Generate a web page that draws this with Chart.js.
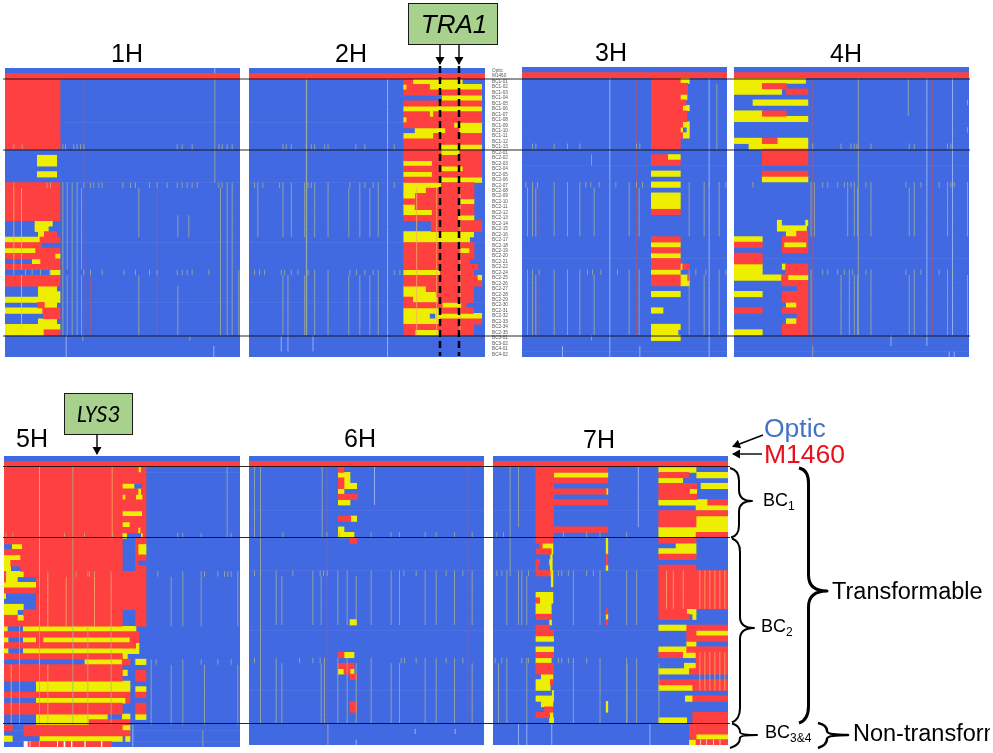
<!DOCTYPE html>
<html>
<head>
<meta charset="utf-8">
<script src="https://cdn.jsdelivr.net/npm/chart.js@4"></script>
<style>
html, body { margin: 0; padding: 0; background: #fff; overflow: hidden; }
body { width: 993px; height: 753px; position: relative; font-family: "Liberation Sans", Arial, sans-serif; }
canvas { position: absolute; filter: blur(0.35px); }
svg { position: absolute; left: 0; top: 0; }
</style>
</head>
<body>
<canvas id="h1"></canvas>
<canvas id="h2"></canvas>
<canvas id="h3"></canvas>
<canvas id="h4"></canvas>
<canvas id="h5"></canvas>
<canvas id="h6"></canvas>
<canvas id="h7"></canvas>

<svg width="990" height="753" viewBox="0 0 990 753">
  <defs>
    <marker id="head" markerWidth="5" markerHeight="5" refX="4" refY="2.5" orient="auto" markerUnits="userSpaceOnUse" viewBox="0 0 5 5" overflow="visible">
      <path d="M-3 -2 L5 2.5 L-3 7 Z" fill="#000"/>
    </marker>
  </defs>

  <g stroke="#111" stroke-width="1" opacity="0.9">
    <line x1="3" y1="79" x2="970" y2="79"/>
    <line x1="3" y1="150" x2="970" y2="150"/>
    <line x1="3" y1="336" x2="970" y2="336"/>
    <line x1="3" y1="466.5" x2="730" y2="466.5"/>
    <line x1="3" y1="537.5" x2="730" y2="537.5"/>
    <line x1="3" y1="723.5" x2="730" y2="723.5"/>
  </g>

  <g stroke="#000" stroke-width="2.5" stroke-dasharray="7 4">
    <line x1="440" y1="66" x2="440" y2="356"/>
    <line x1="459" y1="66" x2="459" y2="356"/>
  </g>

  <g font-size="25" text-anchor="middle" fill="#000">
    <text x="127" y="62">1H</text>
    <text x="351" y="62">2H</text>
    <text x="611" y="61">3H</text>
    <text x="846" y="62">4H</text>
    <text x="32" y="447">5H</text>
    <text x="360" y="447">6H</text>
    <text x="599" y="448">7H</text>
  </g>

  <rect x="408.5" y="3.5" width="89" height="41" fill="#a9d18e" stroke="#1a1a1a"/>
  <text x="454" y="33" font-size="26" font-style="italic" text-anchor="middle">TRA1</text>
  <rect x="64.5" y="393.5" width="68" height="41" fill="#a9d18e" stroke="#1a1a1a"/>
  <text x="98" y="422" font-size="24" font-style="italic" font-family="Carlito, 'Open Sans', 'Liberation Sans', sans-serif" text-anchor="middle">LYS3</text>

  <g stroke="#000" stroke-width="1.4" fill="none" marker-end="url(#head)">
    <line x1="440" y1="44" x2="440" y2="64"/>
    <line x1="459" y1="44" x2="459" y2="64"/>
    <line x1="97" y1="434" x2="97" y2="454"/>
    <line x1="763" y1="435" x2="733" y2="446.5"/>
    <line x1="762" y1="454" x2="733" y2="454"/>
  </g>

  <g fill="none" stroke="#000" stroke-width="2" stroke-linejoin="round">
    <path d="M730 468 Q739 470 739 481 L739 490 Q739 501 752 501 Q739 501 739 512 L739 525 Q739 536 731 537.5"/>
    <path d="M732 538.5 Q740 541 740 552 L740 617 Q740 628 754 628 Q740 628 740 639 L740 708 Q740 719 732 722.5"/>
    <path d="M732 723.5 Q740 726 740 732 Q740 735 757 735 Q740 735 740 738 Q740 745 730 748"/>
    <path d="M799 468 Q808.5 470 808.5 483 L808.5 575 Q808.5 591 827 591 Q808.5 591 808.5 607 L808.5 706 Q808.5 720 799 723" stroke-width="3"/>
    <path d="M818 723 Q827 725 827 731 Q827 735 848 735 Q827 735 827 739 Q827 745 818 748" stroke-width="2.5"/>
  </g>

  <text x="764" y="437" font-size="26.5" fill="#4472c4">Optic</text>
  <text x="764" y="463" font-size="26.5" fill="#e8101c">M1460</text>

  <g font-size="18" fill="#000">
    <text x="763" y="506">BC<tspan font-size="12" dy="4">1</tspan></text>
    <text x="761" y="632">BC<tspan font-size="12" dy="4">2</tspan></text>
    <text x="765" y="738">BC<tspan font-size="12" dy="4">3&amp;4</tspan></text>
  </g>
  <text x="832" y="599" font-size="23.5">Transformable</text>
  <text x="853" y="741" font-size="23.5">Non-transformable</text>
</svg>

<script>
// the lines, top to bottom, printed beside 2H
const lineLabels = [
    'Optic', 'M1460',
    'BC1-01', 'BC1-02', 'BC1-03', 'BC1-04', 'BC1-05', 'BC1-06', 'BC1-07', 'BC1-08', 'BC1-09', 'BC1-10', 'BC1-11', 'BC1-12', 'BC1-13',
    'BC2-01', 'BC2-02', 'BC2-03', 'BC2-04', 'BC2-05', 'BC2-06', 'BC2-07', 'BC2-08', 'BC2-09', 'BC2-10', 'BC2-11', 'BC2-12',
    'BC2-13', 'BC2-14', 'BC2-15', 'BC2-16', 'BC2-17', 'BC2-18', 'BC2-19', 'BC2-20', 'BC2-21', 'BC2-22', 'BC2-24', 'BC2-25',
    'BC2-26', 'BC2-27', 'BC2-28', 'BC2-29', 'BC2-30', 'BC2-31', 'BC2-32', 'BC2-33', 'BC2-34', 'BC2-35',
    'BC3-01', 'BC3-02', 'BC4-01', 'BC4-02'
];

// marker-axis length of each chromosome
const h1Length = 705, h2Length = 706, h3Length = 615, h4Length = 706, h5Length = 708, h6Length = 705, h7Length = 706;

// genotype runs: [first row, last row, 'r=M1460 y=het b=Optic w=no call, each with the marker where it starts']
const h1Runs = [
    [1, 1, 'r0 b705'], [2, 14, 'r0 b165'], [13, 13, 'r0 y153 r161 b165'],
    [16, 17, 'y97 b155'], [19, 19, 'y97 b155'], [21, 27, 'r0 b165'],
    [28, 28, 'y90 b142'], [29, 29, 'y90 b130'], [30, 30, 'y100 r118 b155'],
    [31, 31, 'y0 r105 b165'], [32, 32, 'r0 b110'], [33, 33, 'y0 r92 b165'],
    [34, 34, 'r0 y150 b165'], [35, 35, 'y82 r107 b165'], [36, 36, 'r0 b165'],
    [37, 37, 'y135 b165'], [38, 39, 'r0 b165'], [40, 40, 'y100 b155'],
    [41, 41, 'y100 b165'], [42, 42, 'y0 b165'], [43, 43, 'r98 y118 b155'],
    [44, 44, 'y0 r113 b165'], [45, 45, 'r115 b165'], [46, 46, 'y100 b155'],
    [47, 47, 'y0 b165'], [48, 48, 'y0 r117 b165']
];
const h2Runs = [
    [1, 1, 'r0 b706'],
    [2, 2, 'r463 y490 b638'], [3, 3, 'y463 r472 y540 b696'], [4, 4, 'r463 b696'],
    [5, 5, 'y578 b696'], [6, 6, 'r463 b696'], [7, 7, 'y463 b696'],
    [8, 8, 'r463 y540 r552 b696'], [9, 9, 'y463 r472 b696'], [10, 10, 'r463 y613 b696'],
    [11, 11, 'y497 r588 y628 b696'], [12, 12, 'y463 r552 b696'], [13, 13, 'r463 b696'],
    [14, 14, 'r463 y568 b696'], [15, 15, 'r463 y575 r630 b696'], [16, 16, 'r463 b696'],
    [17, 17, 'y463 r548 b696'], [18, 18, 'r463 y575 r640 b696'], [19, 19, 'y463 r548 b696'],
    [20, 20, 'r463 y575 b696'], [21, 21, 'y463 r575 b673'], [22, 22, 'y463 r530 b673'],
    [23, 23, 'y463 r498 b673'], [24, 24, 'r463 y630 b673'], [25, 25, 'y463 r497 b673'],
    [26, 26, 'y463 r548 b673'], [27, 27, 'r463 y625 b673'], [28, 29, 'r545 b696'],
    [30, 30, 'y463 b672'], [31, 31, 'y463 b660'], [32, 32, 'r463 b673'],
    [33, 33, 'r463 y632 r660 b673'], [34, 34, 'r463 b673'], [35, 35, 'r463 b660'],
    [36, 36, 'r463 b685'], [37, 37, 'y463 r572 b672'], [38, 38, 'r463 y683 b696'],
    [39, 39, 'r463 b696'], [40, 40, 'y463 r530 b672'], [41, 41, 'y463 r560 b672'],
    [42, 42, 'r463 y490 r565 b672'], [43, 43, 'r463 y578 r636 b650'], [44, 44, 'y463 r572 b672'],
    [45, 45, 'y463 b540 y558 b696'], [46, 46, 'y463 r572 b696'], [47, 47, 'r463 b672'],
    [48, 48, 'r463 y497 r572 b672']
];
const h3Runs = [
    [1, 1, 'r0 b615'],
    [2, 2, 'r388 y475 b502'], [3, 4, 'r388 b497'], [5, 5, 'r388 y475 b495'], [6, 6, 'r388 b492'],
    [7, 7, 'r388 y482 b502'], [8, 9, 'r388 b495'], [10, 10, 'r388 y482 b502'],
    [11, 11, 'r388 y475 b482 y495 b502'], [12, 12, 'r388 y482 b502'], [13, 14, 'r388 b475'],
    [16, 16, 'r388 y437 b475'], [17, 17, 'r388 b475'], [19, 19, 'y388 b475'], [21, 21, 'y388 b475'],
    [23, 25, 'y388 b475'], [26, 26, 'r388 b475'], [31, 31, 'r388 b475'], [32, 32, 'y388 b475'],
    [33, 33, 'r388 b475'], [34, 34, 'y388 b475'], [35, 35, 'r388 b475'], [36, 36, 'r388 y475 r482 b502'],
    [37, 37, 'y388 b475'], [38, 38, 'r388 y475 r497 b502'], [39, 39, 'r388 y475 b502'],
    [41, 41, 'y388 b475'], [44, 44, 'y388 b423'], [47, 47, 'y388 b475'], [48, 48, 'y388 b468'], [49, 49, 'y388 b475']
];
const h4Runs = [
    [1, 1, 'r0 b706'],
    [2, 2, 'y0 b215'], [3, 3, 'y0 r85 b157'], [4, 4, 'y0 b143 r157 b222'], [6, 6, 'y57 b222'],
    [8, 8, 'y0 r85 b157'], [9, 9, 'y0 b222'], [13, 13, 'y0 r85 y130 b222'], [14, 14, 'y45 b222'],
    [15, 17, 'r85 b222'], [19, 19, 'r85 b222'], [20, 20, 'y85 b222'],
    [28, 28, 'y130 b143 y215 b222'], [29, 29, 'y130 b218'], [30, 30, 'y157 r188 b222'],
    [31, 31, 'y0 b85 r145 b222'], [32, 32, 'r0 b85 r145 y150 r218 b222'], [33, 33, 'r145 b222'],
    [34, 35, 'r0 b85'], [36, 36, 'y0 b85 y145 r155 b222'], [37, 37, 'y0 b85 r155 b222'],
    [38, 38, 'y0 r143 y162 b222'], [39, 39, 'r143 b222'], [40, 40, 'r190 b222'],
    [41, 41, 'y0 b85 r145 b222'], [42, 42, 'r145 b222'], [43, 43, 'y157 r188 b222'],
    [44, 44, 'r0 b85 r145 b222'], [45, 45, 'r190 b222'], [46, 46, 'y157 r188 b222'],
    [47, 47, 'r145 b222'], [48, 48, 'y0 b85 r145 b222']
];
const h5Runs = [
    [1, 1, 'r0 b708'],
    [2, 2, 'r0 y403 r412 b426'], [3, 4, 'r0 b426'], [5, 5, 'r0 y355 b390 r415 b426'],
    [6, 6, 'r0 y402 r412 b426'], [7, 7, 'r0 y355 r365 y395 r416 b426'], [8, 9, 'r0 b426'],
    [10, 10, 'r0 y355 r415 b426'], [11, 11, 'r0 b426'], [12, 12, 'r0 y355 r378 b426'],
    [13, 13, 'r0 y402 r410 b426'], [14, 14, 'r0 y355 b368 y412 r417 b426'],
    [15, 15, 'r0 b355 r395 b426'], [16, 16, 'y25 r55 b355 r395 y402 b426'], [17, 17, 'r0 b355 r395 y402 b426'],
    [18, 18, 'y0 r50 b355 r395 b426'], [19, 19, 'y0 r20 b355 r395 b402'], [20, 20, 'y0 b20 r50 b355 r395 b426'],
    [21, 21, 'r0 y5 r60 b426'], [22, 22, 'r0 y5 b40 r97 b426'], [23, 23, 'y0 r97 b426'], [24, 24, 'r0 b426'],
    [25, 25, 'y0 b5 r97 b426'], [26, 26, 'b0 r97 b426'], [27, 27, 'y0 b58 r97 b426'],
    [28, 28, 'y0 b40 r58 b355 r395 b426'], [29, 29, 'r0 y40 r60 b355 r395 b426'], [30, 30, 'r0 b355 r395 b426'],
    [31, 31, 'y0 b10 y58 b396'], [32, 32, 'r0 b405'], [33, 33, 'y0 b12 y58 r97 y117 r378 b405'],
    [34, 34, 'r0 y395 b405'], [35, 35, 'y0 b12 y58 b405'], [36, 36, 'r0 y355 b370'],
    [37, 37, 'y243 r355 b378 y395 b426'], [38, 38, 'r0 b355'], [39, 39, 'r0 y355 b370 r395 b426'],
    [40, 40, 'r0 b355 r395 b426'], [41, 41, 'y97 b378'], [42, 42, 'y97 b378 y395 b426'],
    [43, 43, 'r0 b378 r395 b426'], [44, 44, 'y97 r365 b378'], [45, 46, 'r0 b355 r395 b426'],
    [47, 47, 'y97 b310 y355 b378 y395 b426'], [48, 48, 'y97 r255 b378'],
    [49, 49, 'r0 b25 r60 y355 b378'], [50, 50, 'r60 b378'], [51, 51, 'y0 b25 y108 b355 y365 b378'],
    [52, 52, 'w60 r72 w76 r80 w105 r108 w158 r163 w178 r185 w200 r206 w240 r246 w290 r296 b322']
];
const h6Runs = [
    [1, 1, 'r0 b705'],
    [2, 2, 'r268 b285'], [3, 3, 'y268 b303'], [4, 4, 'r268 y285 b303'], [5, 5, 'r268 y285 b323'],
    [6, 6, 'y268 b285'], [7, 7, 'r268 b325'], [8, 8, 'y268 b303'], [11, 11, 'r268 y305 b323'],
    [13, 13, 'y268 b285'], [14, 14, 'y268 b315'], [15, 15, 'r303 b323'], [30, 30, 'y303 b323'],
    [36, 36, 'r268 y285 b315'], [38, 38, 'r268 b315'], [39, 39, 'y268 r285 y303 b315'],
    [40, 40, 'r303 b323'], [45, 46, 'r303 b323']
];
const h7Runs = [
    [1, 1, 'r0 b706'],
    [2, 2, 'r129 b345 y498 b610'], [3, 3, 'r129 y182 b345 r498 b588 y612 b706'], [4, 4, 'r129 b345 y498 b570'],
    [5, 5, 'r129 b182 r498 b612 y625 b706'], [6, 6, 'r129 y340 b345 r498 y590 b612'], [7, 7, 'r129 b182 r498 b612'],
    [8, 8, 'r129 b345 y498 r645 b706'], [9, 9, 'r129 b182 y610 b706'], [10, 10, 'r129 b182 r498 b706'],
    [11, 12, 'r129 b182 r498 y610 b706'], [13, 13, 'r129 b345 y498 b706'], [14, 14, 'r129 b182 y498 r610 b706'],
    [15, 15, 'r129 b180 y340 b345 r498 b610'], [16, 16, 'r140 y148 b180 y340 b345 y550 b610'],
    [17, 17, 'r129 y175 b180 y340 b345 y498 b610'], [18, 18, 'y173 b178 r340 b345 r498 b610'],
    [19, 19, 'r129 b140 y170 b178 r340 b345'], [20, 20, 'r129 b135 y172 b178 y340 b345 r498 b610'],
    [21, 21, 'r129 y172 b180 r498 b706'], [22, 23, 'y175 b180 r498 b706'], [24, 24, 'r498 b706'],
    [25, 25, 'y129 b180 r498 b706'], [26, 26, 'r129 y140 b180 r498 b706'], [27, 27, 'y129 b175 r498 b706'],
    [28, 28, 'y129 b175 r340 b345 r498 y582 b610'], [29, 29, 'r129 b175 y340 b345 r498 b590 y600 b610'],
    [30, 30, 'y170 b176 r340 b345'], [31, 31, 'r129 b170 y498 r582 b706'], [32, 32, 'r129 b182 r582 y610 b706'],
    [33, 33, 'y129 b182 r582 b706'], [34, 34, 'y582 b610'], [35, 35, 'y129 b182 y498 r582 b706'],
    [36, 36, 'r129 b182 r498 y570 r610 b706'], [37, 37, 'y129 b175 r610 b706'], [38, 38, 'r129 b182 y575 r610 b706'],
    [39, 39, 'r129 b182 y498 r590 b706'], [40, 40, 'y145 b180'], [41, 41, 'y129 r172 b180 r498 b706'],
    [42, 42, 'y129 b172 y498 r600 b706'], [43, 43, 'y178 b182'], [44, 44, 'y129 b182 y578 r600 b706'],
    [45, 45, 'y145 b180 y340 b345'], [46, 46, 'r155 b180 y340 b345'], [47, 47, 'r129 y170 b180 r600 b706'],
    [48, 48, 'y170 b182 y498 b582 r600 b706'],
    [49, 50, 'r590 b706'], [51, 51, 'r590 y610 b706'], [52, 52, 'y590 r610 w622 r626 w640 r644 w660 r664 w680 r684 b706']
];

// single-marker calls: [first row, last row, g=olive m=mauve l=pale o=tan, marker positions]
const h1Lines = [
    [0, 0, 'l', [628]], [2, 48, 'm', [235]], [22, 48, 'm', [455]], [2, 20, 'g', [628]], [38, 48, 'm', [255]],
    [14, 14, 'g', [25, 50, 172, 180, 205, 215, 225, 235, 515, 530, 560, 640, 650, 665, 680]],
    [21, 21, 'g', [25, 125, 135, 172, 185, 200, 215, 235, 255, 265, 280, 290, 352, 375, 390, 432, 455, 485, 515, 530, 545, 560, 575, 640, 650, 665, 680]],
    [37, 37, 'g', [25, 60, 80, 105, 135, 172, 200, 215, 235, 255, 290, 355, 390, 432, 455, 515, 530, 545, 560, 610, 645, 665, 680, 700]],
    [22, 36, 'g', [172, 185, 200, 215, 228, 645, 665, 680]], [22, 30, 'g', [400]], [27, 30, 'g', [517, 550]],
    [38, 48, 'g', [172, 185, 200, 215, 228, 400, 645, 665, 680, 700]], [40, 48, 'g', [517]],
    [49, 52, 'l', [182]], [51, 52, 'l', [625]], [49, 49, 'g', [232, 553]],
    [22, 36, 'o', [25, 48]], [38, 47, 'l', [48]]
];
const h2Lines = [
    [2, 48, 'g', [170, 171]], [2, 52, 'l', [413]],
    [14, 14, 'g', [100, 110, 125, 170, 185, 195, 225, 235, 318, 345, 433]],
    [21, 21, 'g', [15, 25, 40, 90, 100, 125, 165, 175, 185, 195, 235, 300, 330, 345, 370, 385, 433]],
    [22, 30, 'g', [25, 100, 125, 165, 195, 235, 297, 330, 360, 385]],
    [37, 37, 'g', [15, 30, 45, 95, 105, 125, 145, 175, 195, 235, 300, 320, 345, 370, 385, 433, 450]],
    [38, 48, 'g', [100, 115, 165, 195, 235, 297, 330, 360, 385]],
    [49, 51, 'l', [95, 115, 190]],
    [22, 48, 'o', [500, 560, 630]]
];
const h3Lines = [
    [2, 52, 'l', [262, 560]], [2, 48, 'm', [342]], [3, 14, 'g', [583]],
    [14, 14, 'g', [30, 40, 95, 135, 172, 342, 352]], [16, 17, 'g', [207]],
    [21, 21, 'g', [10, 30, 45, 95, 135, 172, 190, 205, 230, 280, 320, 342, 360, 500, 545, 560, 590, 610]],
    [22, 30, 'g', [15, 30, 40, 95, 135, 172, 215, 320, 350, 500, 545, 590]], [22, 30, 'm', [50]],
    [37, 37, 'g', [15, 30, 50, 95, 135, 172, 195, 210, 235, 285, 320, 350, 500, 520, 550, 590, 610]],
    [38, 48, 'g', [15, 30, 40, 95, 135, 172, 215, 320, 350, 500, 545, 590]], [38, 48, 'm', [50]],
    [49, 49, 'g', [207]], [51, 52, 'l', [120, 352]]
];
const h4Lines = [
    [2, 50, 'm', [235]], [2, 48, 'm', [595]], [2, 48, 'g', [372]], [2, 48, 'l', [578, 655]],
    [2, 8, 'g', [522]], [6, 6, 'g', [700]], [11, 11, 'g', [700]],
    [14, 14, 'g', [235, 320, 350, 360, 368, 410, 525, 540, 640, 650]],
    [21, 21, 'g', [55, 230, 240, 265, 280, 310, 330, 340, 350, 360, 395, 410, 515, 540, 560, 615, 640, 650, 660, 700]],
    [22, 30, 'g', [230, 240, 340, 360, 370, 410, 525, 540, 640, 700]],
    [37, 37, 'g', [230, 265, 280, 310, 330, 345, 355, 395, 410, 515, 540, 560, 615, 640, 655]],
    [38, 48, 'g', [230, 320, 345, 360, 370, 410, 525, 540, 640, 700]],
    [49, 50, 'l', [470, 578]], [51, 52, 'g', [235]], [52, 52, 'l', [645, 660]]
];
const h5Lines = [
    [2, 30, 'o', [105]], [2, 48, 'g', [205]], [2, 14, 'o', [323]], [2, 14, 'g', [668]],
    [14, 14, 'g', [5, 25, 180, 240, 325, 355, 520, 535, 590, 680]],
    [21, 21, 'g', [5, 130, 215, 250, 255, 270, 320, 460, 535, 590, 600, 640, 660, 670, 680, 700]],
    [22, 30, 'o', [130, 185, 270, 320]], [22, 30, 'g', [500, 535, 590, 700]],
    [37, 37, 'g', [45, 105, 440, 455, 535, 590, 640, 680]],
    [38, 48, 'g', [440, 500, 535, 600, 700]], [31, 48, 'g', [45, 105, 250, 320]], [38, 48, 'o', [20, 130]],
    [49, 52, 'l', [385]], [50, 52, 'g', [595]]
];
const h6Lines = [
    [2, 52, 'm', [233]], [2, 48, 'm', [655]], [2, 48, 'g', [33]], [2, 14, 'g', [15, 218]], [2, 8, 'l', [375]],
    [14, 14, 'g', [100, 232, 270, 365, 425, 450, 527, 560, 615, 668]],
    [21, 21, 'g', [15, 33, 80, 130, 190, 212, 222, 233, 265, 293, 365, 425, 450, 463, 500, 527, 560, 590, 615, 640, 668]],
    [22, 30, 'g', [80, 97, 190, 215, 265, 293, 320, 365, 425, 450, 527, 560, 615, 668]],
    [37, 37, 'g', [15, 80, 150, 190, 212, 225, 265, 293, 365, 455, 465, 500, 527, 560, 590, 615, 640, 705]],
    [38, 48, 'g', [80, 97, 215, 225, 265, 293, 320, 365, 425, 450, 527, 560, 615, 668]],
    [49, 52, 'l', [235]], [50, 50, 'l', [497, 617]], [52, 52, 'l', [320]]
];
const h7Lines = [
    [2, 20, 'g', [50]], [2, 12, 'g', [75]], [2, 12, 'l', [435]],
    [14, 14, 'g', [10, 30, 210, 280, 320, 400]],
    [21, 21, 'g', [10, 25, 40, 50, 75, 85, 105, 195, 205, 225, 240, 280, 300, 320, 400, 430]],
    [22, 30, 'g', [40, 75, 85, 100, 240, 320, 400, 430]],
    [37, 37, 'g', [5, 25, 40, 85, 100, 105, 195, 205, 225, 240, 280, 320, 400, 430]],
    [38, 48, 'g', [15, 40, 100, 240, 320, 400, 401, 430, 497]],
    [49, 52, 'l', [75, 100, 175, 470]],
    [21, 27, 'o', [520, 540, 570, 620, 635, 650, 665, 680, 695]],
    [36, 42, 'o', [620, 635, 650, 665, 680, 695]]
];

const genotypeColors = {r: '#ff4040', y: '#eeee00', w: '#ffffff'};
const lineColors = {g: 'rgba(170,180,140,0.75)', m: 'rgba(170,90,120,0.7)', l: 'rgba(170,195,245,0.8)', o: 'rgba(245,175,100,0.8)'};

function runsToBars(runs) {
    const bars = {r: [], y: [], w: []};
    runs.forEach(([first, last, text]) => {
        const tokens = text.split(' ');
        for (let row = first; row <= last; row++) {
            tokens.forEach((token, i) => {
                const kind = token[0];
                if (kind === 'b' || i === tokens.length - 1) return;
                bars[kind].push({y: lineLabels[row], x: [+token.slice(1), +tokens[i + 1].slice(1)]});
            });
        }
    });
    return bars;
}

function linesToBars(lines) {
    const bars = {g: [], m: [], l: [], o: []};
    lines.forEach(([first, last, kind, markers]) => {
        for (let row = first; row <= last; row++) {
            markers.forEach(m => bars[kind].push({y: lineLabels[row], x: [m, m + 3]}));
        }
    });
    return bars;
}

function drawPanel(id, box, length, runs, lines, withLabels) {
    const canvas = document.getElementById(id);
    const labelWidth = withLabels ? 30 : 0;
    canvas.width = box.w + labelWidth;
    canvas.height = box.h;
    canvas.style.left = box.x + 'px';
    canvas.style.top = box.y + 'px';
    canvas.style.width = (box.w + labelWidth) + 'px';
    canvas.style.height = box.h + 'px';

    const calls = runsToBars(runs);
    const marks = linesToBars(lines);
    const datasets = [];
    Object.keys(marks).forEach(k => datasets.push({label: k, data: marks[k], backgroundColor: lineColors[k], inflateAmount: 0}));
    Object.keys(genotypeColors).forEach(k => datasets.push({label: k, data: calls[k], backgroundColor: genotypeColors[k]}));
    datasets.push({label: 'Optic', data: lineLabels.map(name => ({y: name, x: [0, length]})), backgroundColor: '#4169e1'});

    const yAxis = {type: 'category', labels: lineLabels, offset: true, display: !!withLabels};
    if (withLabels) {
        Object.assign(yAxis, {
            position: 'right',
            // keep the plot the full canvas height: tick padding would otherwise shrink it
            afterFit: axis => {
                axis.width = labelWidth;
                axis.paddingTop = 0;
                axis.paddingBottom = 0;
            },
            grid: {display: false, drawTicks: false},
            border: {display: false},
            ticks: {autoSkip: false, padding: 7, crossAlign: 'near', color: '#555', font: {size: 4.7, family: 'Liberation Sans'}}
        });
    }

    new Chart(canvas, {
        type: 'bar',
        data: {labels: lineLabels, datasets},
        options: {
            indexAxis: 'y',
            responsive: false,
            animation: false,
            events: [],
            layout: {padding: 0},
            grouped: false,
            barPercentage: 1,
            categoryPercentage: 1,
            plugins: {legend: {display: false}, tooltip: {enabled: false}},
            scales: {x: {type: 'linear', min: 0, max: length, display: false}, y: yAxis}
        }
    });
}

drawPanel('h1', {x: 5, y: 68, w: 235, h: 289}, h1Length, h1Runs, h1Lines);
drawPanel('h2', {x: 249, y: 68, w: 236, h: 289}, h2Length, h2Runs, h2Lines, true);
drawPanel('h3', {x: 522, y: 67, w: 205, h: 290}, h3Length, h3Runs, h3Lines);
drawPanel('h4', {x: 734, y: 67, w: 235, h: 290}, h4Length, h4Runs, h4Lines);
drawPanel('h5', {x: 4, y: 456, w: 236, h: 291}, h5Length, h5Runs, h5Lines);
drawPanel('h6', {x: 249, y: 456, w: 235, h: 289}, h6Length, h6Runs, h6Lines);
drawPanel('h7', {x: 493, y: 456, w: 235, h: 289}, h7Length, h7Runs, h7Lines);
</script>
</body>
</html>
